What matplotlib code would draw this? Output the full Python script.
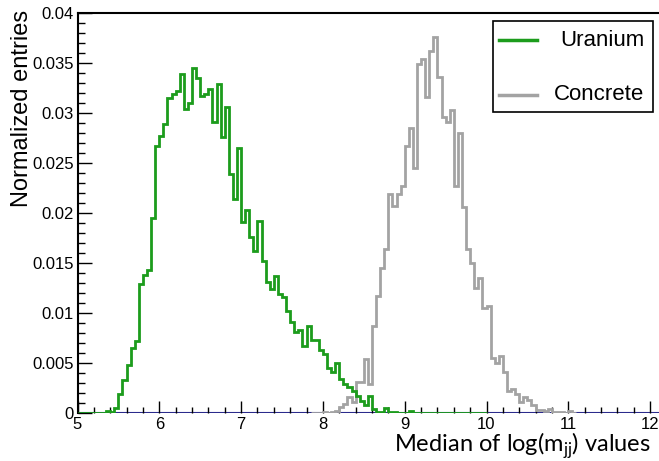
import numpy as np
import matplotlib
matplotlib.use("Agg")
import matplotlib.pyplot as plt
from matplotlib.ticker import MultipleLocator, FuncFormatter
from matplotlib.lines import Line2D
from matplotlib.patches import Rectangle

# histogram contents, fixed bin width
bin_w = 0.05

uranium_lo = 5.0
uranium = [
    0, 0, 0, 0, 0, 0, 0, 0.0002, 0.0001, 0.0005,
    0.0019, 0.0033, 0.0048, 0.0065, 0.0072, 0.0129, 0.0138, 0.0143, 0.0195, 0.0267,
    0.0277, 0.0289, 0.0315, 0.0319, 0.0322, 0.0339, 0.0304, 0.0310, 0.0345, 0.0335,
    0.0317, 0.0319, 0.0324, 0.0291, 0.0329, 0.0276, 0.0306, 0.0239, 0.0214, 0.0265,
    0.0191, 0.0203, 0.0176, 0.0162, 0.0192, 0.0152, 0.0131, 0.0124, 0.0137, 0.0119,
    0.0116, 0.0102, 0.0091, 0.0081, 0.0083, 0.0067, 0.0087, 0.0073, 0.0073, 0.0063,
    0.0059, 0.0045, 0.0041, 0.0050, 0.0034, 0.0029, 0.0026, 0.0022, 0.0017, 0.0012,
    0.0008, 0.0017, 0.0004, 0.0001, 0.0001, 0.0005, 0.0001, 0.0001, 0, 0,
    0, 0.0002, 0, 0, 0, 0, 0, 0, 0, 0,
    0, 0, 0, 0, 0, 0, 0, 0, 0, 0,
]

concrete_lo = 7.85
concrete = [
    0, 0, 0, 0.0001, 0, 0.0001, 0.0002,
    0.0006, 0.0009, 0.0016, 0.0011, 0.0031, 0.0031, 0.0054, 0.0029, 0.0087, 0.0117,
    0.0145, 0.0164, 0.0219, 0.0207, 0.0219, 0.0227, 0.0267, 0.0285, 0.0245, 0.0349,
    0.0354, 0.0316, 0.0362, 0.0376, 0.0336, 0.0296, 0.0291, 0.0303, 0.0227, 0.0280,
    0.0206, 0.0164, 0.0150, 0.0125, 0.0135, 0.0105, 0.0107, 0.0055, 0.0050, 0.0057,
    0.0041, 0.0022, 0.0024, 0.0019, 0.0011, 0.0016, 0.0013, 0.0008, 0.0003, 0.0003,
    0.0002, 0.0004, 0.0001, 0.0001, 0.0001, 0, 0.0002, 0,
]

labels = ["Uranium", "Concrete"]
colors = ["#1c9c1c", "#a3a3a3"]


def edges(lo, n):
    return lo + bin_w * np.arange(n + 1)


plt.rcParams['font.family'] = ['Liberation Sans', 'DejaVu Sans']
plt.rcParams['mathtext.fontset'] = 'custom'
plt.rcParams['mathtext.rm'] = 'Lato'

W, H = 659, 461
px_per_unit = 81.8
fig = plt.figure(figsize=(W / 100, H / 100), dpi=100)
ax = fig.add_axes([77.5 / W, 48.3 / H, (W - 77.5) / W, 399.2 / H])

ax.axhline(0, color='#2b2b8c', lw=1.5, zorder=1)
ax.stairs(concrete, edges(concrete_lo, len(concrete)), color=colors[1], lw=2, zorder=2)
ax.stairs(uranium, edges(uranium_lo, len(uranium)), color=colors[0], lw=2, zorder=3)

ax.set_xlim(5, 5 + (W - 77.5) / px_per_unit)
ax.set_ylim(0, 0.04)

ax.xaxis.set_major_locator(MultipleLocator(1))
ax.xaxis.set_minor_locator(MultipleLocator(0.2))
ax.yaxis.set_major_locator(MultipleLocator(0.005))
ax.yaxis.set_minor_locator(MultipleLocator(0.001))
ax.yaxis.set_major_formatter(FuncFormatter(lambda v, p: "%g" % round(v, 4)))

ax.tick_params(axis='x', which='major', direction='in', length=9, width=1, pad=3, labelsize=12)
ax.tick_params(axis='x', which='minor', direction='in', length=4.5, width=1)
ax.tick_params(axis='y', which='major', direction='in', length=10, width=1, pad=2.5, labelsize=12)
ax.tick_params(axis='y', which='minor', direction='in', length=5, width=1)

ax.spines['right'].set_visible(False)
ax.spines['bottom'].set_visible(False)
ax.spines['left'].set_linewidth(1.5)
ax.spines['top'].set_linewidth(1.5)

fig.text(21.7 / W, 1 - 108 / H, 'Normalized entries', rotation=90,
         ha='center', va='center', fontsize=17)
fig.text(651 / W, 1 - 452 / H, r'Median of log(m$_{\mathrm{jj}}$) values',
         ha='right', va='baseline', fontsize=17, family='Lato')

# legend box
fig.add_artist(Rectangle((492.7 / W, 1 - 111.7 / H), 160.6 / W, 91 / H,
                         transform=fig.transFigure, facecolor='white',
                         edgecolor='black', lw=1.2, zorder=10))
for i, (lab, col) in enumerate(zip(labels, colors)):
    yy = 1 - (40 + 55 * i) / H
    fig.add_artist(Line2D([499 / W, 537 / W], [yy, yy], transform=fig.transFigure,
                          color=col, lw=2.5, zorder=11))
    fig.text(644 / W, yy, lab, ha='right', va='center', fontsize=16, zorder=11)

fig.savefig('out.png', dpi=100)
